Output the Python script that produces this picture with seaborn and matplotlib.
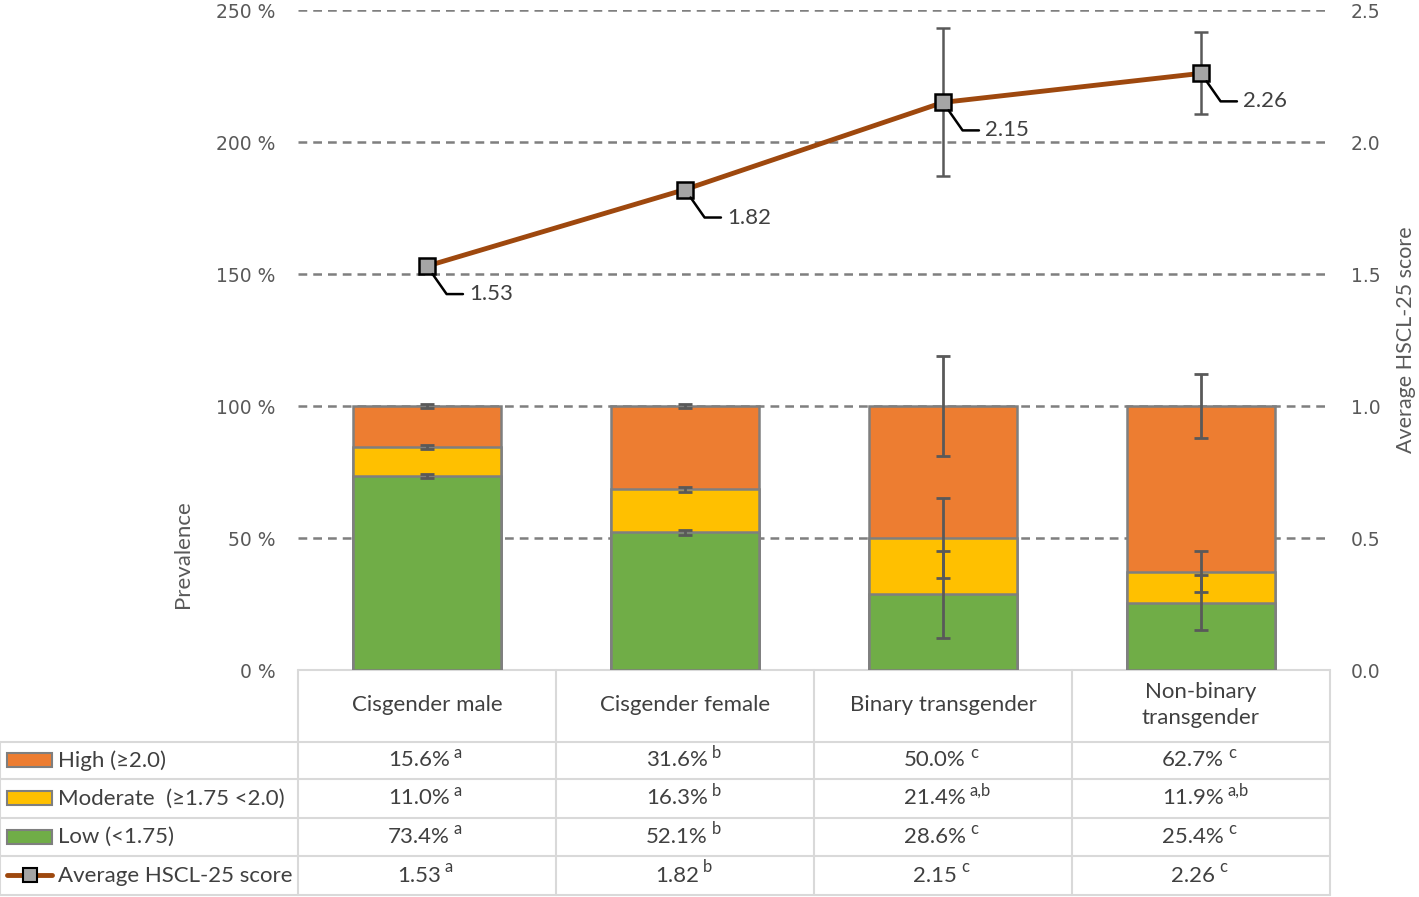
import numpy as np
import matplotlib
matplotlib.use("Agg")
import matplotlib.pyplot as plt
import seaborn as sns
from matplotlib.patches import Rectangle
from matplotlib.lines import Line2D

# data
categories = ["Cisgender male", "Cisgender female", "Binary transgender", "Non-binary\ntransgender"]
high = np.array([15.6, 31.6, 50.0, 62.7])
moderate = np.array([11.0, 16.3, 21.4, 11.9])
low = np.array([73.4, 52.1, 28.6, 25.4])
score = np.array([1.53, 1.82, 2.15, 2.26])

# error bar half-widths (estimated)
high_err = np.array([0.8, 0.8, 19.0, 12.0])
moderate_err = np.array([0.8, 0.8, 15.0, 7.7])
low_err = np.array([0.8, 0.8, 16.5, 10.4])
score_err = np.array([0.01, 0.01, 0.28, 0.155])

high_sup = ["a", "b", "c", "c"]
moderate_sup = ["a", "b", "a,b", "a,b"]
low_sup = ["a", "b", "c", "c"]
score_sup = ["a", "b", "c", "c"]

row_labels = ["High (\u22652.0)", "Moderate  (\u22651.75 <2.0)", "Low (<1.75)", "Average HSCL-25 score"]

c_high = "#ED7D31"
c_mod = "#FFC000"
c_low = "#70AD47"
c_line = "#9E480E"
c_edge = "#7F7F7F"
c_text = "#404040"
c_tick = "#595959"

sns.set_style("white")
plt.rcParams["font.family"] = ["Lato", "DejaVu Sans"]

W, H = 1419, 897
fig = plt.figure(figsize=(W / 100, H / 100), dpi=100)

# ---- table area (pixel coordinates) ----
tab = fig.add_axes([0, 0, 1, 1])
tab.set_xlim(0, W)
tab.set_ylim(H, 0)
tab.axis("off")

col_edges = [0, 298, 556, 814, 1072, 1330]
row_edges = [670, 742, 779, 818, 856, 895]
grid_c = "#D9D9D9"
tab.plot([298, 1330], [670, 670], color=grid_c, lw=1.5)
for y in row_edges[1:]:
    tab.plot([0, 1330], [y, y], color=grid_c, lw=1.5)
for x in col_edges[1:]:
    tab.plot([x, x], [670, 895], color=grid_c, lw=1.5)
tab.plot([0, 0], [742, 895], color=grid_c, lw=1.5)

centers = [(col_edges[i] + col_edges[i + 1]) / 2 for i in range(1, 5)]
for cx, cat in zip(centers, categories):
    tab.text(cx, 705, cat, ha="center", va="center", fontsize=16, color=c_text,
             linespacing=1.35)

rows = [
    ([f"{v:.1f}%" for v in high], high_sup),
    ([f"{v:.1f}%" for v in moderate], moderate_sup),
    ([f"{v:.1f}%" for v in low], low_sup),
    ([f"{v:.2f}" for v in score], score_sup),
]
for r, (vals, sups) in enumerate(rows):
    cy = (row_edges[r + 1] + row_edges[r + 2]) / 2
    for cx, v, s in zip(centers, vals, sups):
        t = tab.text(cx - 8, cy, v, ha="center", va="center", fontsize=16, color=c_text)
        tab.annotate(s, xy=(1, 0.5), xycoords=t, xytext=(4, 0), textcoords="offset pixels",
                     ha="left", va="bottom", fontsize=12, color=c_text)
    tab.text(58, cy, row_labels[r], ha="left", va="center", fontsize=16, color=c_text)

# legend keys in first column
for r, col in enumerate([c_high, c_mod, c_low]):
    cy = (row_edges[r + 1] + row_edges[r + 2]) / 2
    tab.add_patch(Rectangle((7, cy - 7), 45, 14, facecolor=col, edgecolor=c_edge, lw=1.5))
cy = (row_edges[4] + row_edges[5]) / 2
tab.add_line(Line2D([7, 52], [cy, cy], color=c_line, lw=3.5))
tab.add_line(Line2D([30], [cy], marker="s", markersize=10, markerfacecolor="#A5A5A5",
                    markeredgecolor="black", markeredgewidth=1.5))

# ---- chart area ----
ax = fig.add_axes([298 / W, 1 - 670 / H, (1330 - 298) / W, (670 - 10) / H])
ax.patch.set_alpha(0)

total = high + moderate + low
low_mod = low + moderate
x_lbl = [c.replace("\n", " ") for c in categories]
for vals, col in [(total, c_high), (low_mod, c_mod), (low, c_low)]:
    sns.barplot(x=x_lbl, y=vals, ax=ax, color=col, width=0.57, edgecolor=c_edge,
                linewidth=1.8, saturation=1, zorder=2)

xpos = np.arange(len(categories))
for tops, err in [(total, high_err), (low_mod, moderate_err), (low, low_err)]:
    ax.errorbar(xpos, tops, yerr=err, fmt="none", ecolor=c_tick, elinewidth=2,
                capsize=5, capthick=2, zorder=3)

ax.set_xlim(-0.5, 3.5)
ax.set_ylim(0, 250)
yt = [0, 50, 100, 150, 200, 250]
for y in yt[1:]:
    ax.axhline(y, color="#7F7F7F", lw=1.8, ls=(0, (3.5, 2.4)), zorder=1)
ax.set_yticks(yt)
ax.set_yticklabels([f"{v} %" for v in yt], fontsize=13.5, color=c_tick, family="DejaVu Sans")
ax.tick_params(axis="y", length=0, pad=16)
ax.set_xticks([])
ax.set_xlabel("")
ax.set_ylabel("Prevalence", fontsize=16, color=c_tick)
ax.yaxis.set_label_coords(-0.102, 0.175)
for s in ax.spines.values():
    s.set_visible(False)

ax2 = ax.twinx()
ax2.errorbar(xpos, score, yerr=score_err, fmt="none", ecolor=c_tick, elinewidth=1.8,
             capsize=5, capthick=1.8, zorder=1)
sns.lineplot(x=xpos, y=score, ax=ax2, color=c_line, lw=3.5, marker="s", markersize=11,
             markerfacecolor="#A5A5A5", markeredgecolor="black", markeredgewidth=1.8,
             zorder=3)
for xv, v in zip(xpos, score):
    ax2.annotate(f"{v:.2f}", xy=(xv, v), xytext=(42, -28), textcoords="offset pixels",
                 ha="left", va="center", fontsize=16, color=c_text,
                 arrowprops=dict(arrowstyle="-", color="black", lw=1.8, shrinkA=2, shrinkB=7,
                                 connectionstyle="angle,angleA=0,angleB=125,rad=0"))
ax2.set_xlim(-0.5, 3.5)
ax2.set_ylim(0, 2.5)
ax2.set_yticks([0, 0.5, 1.0, 1.5, 2.0, 2.5])
ax2.set_yticklabels([f"{v:.1f}" for v in [0, 0.5, 1.0, 1.5, 2.0, 2.5]], fontsize=13.5,
                    color=c_tick, family="DejaVu Sans")
ax2.tick_params(axis="y", length=0, pad=15)
ax2.set_xlabel("")
ax2.set_ylabel("Average HSCL-25 score", fontsize=15.5, color=c_tick)
ax2.yaxis.set_label_coords(1.064, 0.5)
for s in ax2.spines.values():
    s.set_visible(False)

fig.savefig("out.png", dpi=100)
